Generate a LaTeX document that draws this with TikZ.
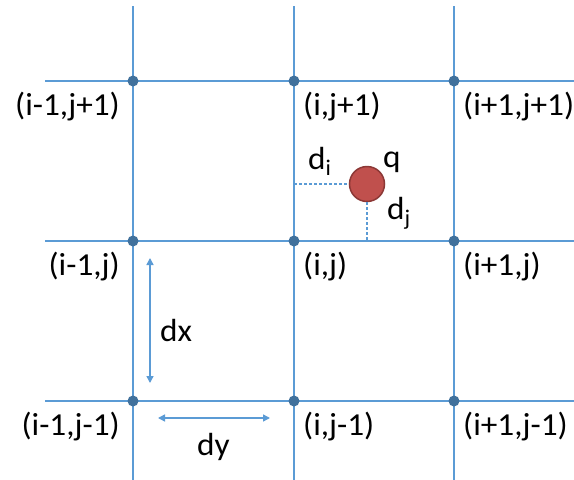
\documentclass[tikz,border=0pt]{standalone}
\usepackage{fontspec}
\setmainfont{Carlito}
\usetikzlibrary{arrows.meta}
\definecolor{gridblue}{RGB}{91,155,213}
\definecolor{dotblue}{RGB}{65,113,156}
\definecolor{qred}{RGB}{192,80,77}
\definecolor{qborder}{RGB}{140,56,54}
\newcommand{\wtext}[1]{\scalebox{1.04}[1]{#1}}
\begin{document}
\begin{tikzpicture}[x=1pt,y=-1pt,
  gridline/.style={draw=gridblue, line width=1.6pt},
  gpoint/.style={circle, fill=dotblue, inner sep=0pt, minimum size=11pt},
  lbl/.style={inner sep=0pt, font=\fontsize{32}{38}\selectfont},
  dimarrow/.style={draw=gridblue, line width=1.5pt, {Triangle[length=7pt,width=7pt]}-{Triangle[length=7pt,width=7pt]}},
  guide/.style={draw=gridblue, line width=1.2pt, dash pattern=on 3pt off 2pt}]
\useasboundingbox[fill=white] (0,0) rectangle (574,480);
% grid line ends
\coordinate (tA) at (133,6);   \coordinate (bA) at (133,480);
\coordinate (tB) at (294,6);   \coordinate (bB) at (294,480);
\coordinate (tC) at (454,6);   \coordinate (bC) at (454,480);
\coordinate (l1) at (45,81);   \coordinate (r1) at (574,81);
\coordinate (l2) at (45,241);  \coordinate (r2) at (574,241);
\coordinate (l3) at (45,401);  \coordinate (r3) at (574,401);
\draw[gridline] (tA) -- (bA);
\draw[gridline] (tB) -- (bB);
\draw[gridline] (tC) -- (bC);
\draw[gridline] (l1) -- (r1);
\draw[gridline] (l2) -- (r2);
\draw[gridline] (l3) -- (r3);
% grid points
\node[gpoint] (g00) at (133,81) {};
\node[gpoint] (g10) at (294,81) {};
\node[gpoint] (g20) at (454,81) {};
\node[gpoint] (g01) at (133,241) {};
\node[gpoint] (g11) at (294,241) {};
\node[gpoint] (g21) at (454,241) {};
\node[gpoint] (g02) at (133,401) {};
\node[gpoint] (g12) at (294,401) {};
\node[gpoint] (g22) at (454,401) {};
% labels
\node[lbl, anchor=east] (L00) at (120,107) {\wtext{(i-1,j+1)}};
\node[lbl, anchor=west] (L10) at (303,107) {\wtext{(i,j+1)}};
\node[lbl, anchor=west] (L20) at (463,107) {\wtext{(i+1,j+1)}};
\node[lbl, anchor=east] (L01) at (120,267) {\wtext{(i-1,j)}};
\node[lbl, anchor=west] (L11) at (303,267) {\wtext{(i,j)}};
\node[lbl, anchor=west] (L21) at (463,267) {\wtext{(i+1,j)}};
\node[lbl, anchor=east] (L02) at (120,427) {\wtext{(i-1,j-1)}};
\node[lbl, anchor=west] (L12) at (303,427) {\wtext{(i,j-1)}};
\node[lbl, anchor=west] (L22) at (463,427) {\wtext{(i+1,j-1)}};
% charge q
\node[circle, fill=qred, draw=qborder, line width=1.5pt, minimum size=35pt, inner sep=0pt] (q) at (367,184) {};
\coordinate (di0) at (294,184);
\coordinate (dj0) at (367,241);
\draw[guide] (di0) -- (q.west);
\draw[guide] (q.south) -- (dj0);
\node[lbl, anchor=base west] (di) at (308,169) {\wtext{d\textsubscript{i}}};
\node[lbl, anchor=base west] (ql) at (383,167) {\wtext{q}};
\node[lbl, anchor=base west] (dj) at (387,219) {\wtext{d\textsubscript{j}}};
% dimension arrows
\coordinate (dxT) at (150,258);
\coordinate (dxB) at (150,383);
\coordinate (dyL) at (158,418);
\coordinate (dyR) at (270,418);
\draw[dimarrow] (dxT) -- (dxB);
\draw[dimarrow] (dyL) -- (dyR);
\node[lbl, anchor=base west] (dxl) at (160,341) {\wtext{dx}};
\node[lbl, anchor=base west] (dyl) at (197,455) {\wtext{dy}};
\end{tikzpicture}
\end{document}
